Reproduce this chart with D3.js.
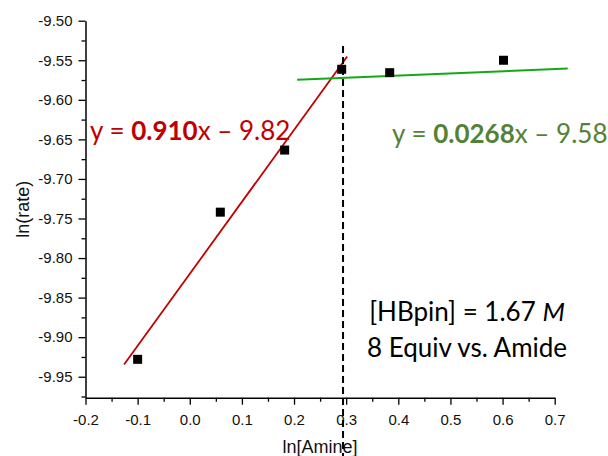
<!DOCTYPE html>
<html>
<head>
<meta charset="utf-8">
<script src="https://cdn.jsdelivr.net/npm/d3@7"></script>
<style>
  html, body { margin: 0; padding: 0; background: #fff; }
  svg { display: block; }
</style>
</head>
<body>
<script>
// ln[Amine] vs ln(rate) measurements
const lnAmine = [-0.100, 0.0586, 0.182, 0.2914, 0.3835, 0.6018];
const lnRate  = [-9.928, -9.742, -9.6635, -9.5614, -9.5657, -9.550];

// Linear fits (slope, intercept) and the x span each fit line covers
const fitLow  = { slope: 0.910,  intercept: -9.82, xFrom: -0.126, xTo: 0.302 };
const fitHigh = { slope: 0.0268, intercept: -9.58, xFrom: 0.206,  xTo: 0.725 };

// Break point marker (vertical dashed line)
const breakX = 0.294;
const breakYSpan = [-9.532, -10.06];

// Axis ticks
const xTicks = [-0.2, -0.1, 0.0, 0.1, 0.2, 0.3, 0.4, 0.5, 0.6, 0.7];
const xMinorTicks = [-0.15, -0.05, 0.05, 0.15, 0.25, 0.35, 0.45, 0.55, 0.65];
const yTicks = [-9.50, -9.55, -9.60, -9.65, -9.70, -9.75, -9.80, -9.85, -9.90, -9.95];
const yMinorTicks = [-9.525, -9.575, -9.625, -9.675, -9.725, -9.775, -9.825, -9.875, -9.925, -9.975];

const W = 608, H = 456;
const svg = d3.select("body").append("svg").attr("width", W).attr("height", H);

const x = d3.scaleLinear().domain([-0.2, 0.7]).range([85.5, 554.7]);
const y = d3.scaleLinear().domain([-9.9765, -9.50]).range([397.7, 20.7]);

const axisFont = "'Liberation Sans', Arial, sans-serif";
const calloutFont = "Lato, 'Open Sans', sans-serif";

// Minor ticks
svg.append("g").attr("transform", `translate(0,${y.range()[0]})`)
  .call(d3.axisBottom(x).tickValues(xMinorTicks).tickSize(4).tickSizeOuter(0).tickFormat(""))
  .call(g => g.select(".domain").remove())
  .call(g => g.selectAll("line").attr("stroke", "#000").attr("stroke-width", 1.3));
svg.append("g").attr("transform", `translate(${x.range()[0]},0)`)
  .call(d3.axisLeft(y).tickValues(yMinorTicks).tickSize(4).tickSizeOuter(0).tickFormat(""))
  .call(g => g.select(".domain").remove())
  .call(g => g.selectAll("line").attr("stroke", "#000").attr("stroke-width", 1.3));

// Major axes
const xAxis = svg.append("g").attr("transform", `translate(0,${y.range()[0]})`)
  .call(d3.axisBottom(x).tickValues(xTicks).tickSize(7).tickSizeOuter(0).tickPadding(10)
    .tickFormat(d => d.toFixed(1)));
const yAxis = svg.append("g").attr("transform", `translate(${x.range()[0]},0)`)
  .call(d3.axisLeft(y).tickValues(yTicks).tickSize(7).tickSizeOuter(0).tickPadding(6)
    .tickFormat(d => d.toFixed(2)));
[xAxis, yAxis].forEach(g => {
  g.select(".domain").attr("stroke", "#000").attr("stroke-width", 1.5);
  g.selectAll(".tick line").attr("stroke", "#000").attr("stroke-width", 1.3);
  g.selectAll("text").attr("fill", "#111").style("font-family", axisFont).style("font-size", "15px");
});

// Axis titles
svg.append("text")
  .attr("x", (x.range()[0] + x.range()[1]) / 2).attr("y", 453)
  .attr("text-anchor", "middle")
  .style("font-family", axisFont).style("font-size", "18px").attr("fill", "#111")
  .text("ln[Amine]");
svg.append("text")
  .attr("transform", `translate(29,${(y.range()[0] + y.range()[1]) / 2}) rotate(-90)`)
  .attr("text-anchor", "middle")
  .style("font-family", axisFont).style("font-size", "18px").attr("fill", "#111")
  .text("ln(rate)");

// Fit lines
const line = d3.line().x(d => x(d[0])).y(d => y(d[1]));
function fitPoints(f) {
  return [f.xFrom, f.xTo].map(v => [v, f.slope * v + f.intercept]);
}
svg.append("path").datum(fitPoints(fitLow))
  .attr("d", line).attr("fill", "none").attr("stroke", "#c00000").attr("stroke-width", 1.8);
svg.append("path").datum(fitPoints(fitHigh))
  .attr("d", line).attr("fill", "none").attr("stroke", "#14a814").attr("stroke-width", 2);

// Break point dashed line
svg.append("path").datum(breakYSpan.map(v => [breakX, v]))
  .attr("d", line).attr("stroke", "#000").attr("stroke-width", 2)
  .attr("stroke-dasharray", "7,4");

// Data markers
const pts = lnAmine.map((v, i) => [v, lnRate[i]]);
svg.append("g").selectAll("rect").data(pts).join("rect")
  .attr("x", d => x(d[0]) - 4.5).attr("y", d => y(d[1]) - 4.5)
  .attr("width", 9).attr("height", 9).attr("fill", "#000");

// Fit equations
function equation(px, py, color, slope, rest) {
  const t = svg.append("text").attr("x", px).attr("y", py)
    .style("font-family", calloutFont).style("font-size", "26px").attr("fill", color);
  t.append("tspan").text("y = ");
  t.append("tspan").style("font-weight", "bold").text(slope);
  t.append("tspan").text(rest);
  return t;
}
equation(90, 140, "#c00000", "0.910", "x \u2013 9.82");
equation(392, 143, "#548235", "0.0268", "x \u2013 9.58");

// Conditions
const cond = svg.append("text").attr("x", 467).attr("y", 320.5).attr("text-anchor", "middle")
  .style("font-family", calloutFont).style("font-size", "26px").attr("fill", "#000");
cond.append("tspan").text("[HBpin] = 1.67 ");
cond.append("tspan").style("font-style", "italic").text("M");
svg.append("text").attr("x", 467).attr("y", 356.5).attr("text-anchor", "middle")
  .style("font-family", calloutFont).style("font-size", "26px").attr("fill", "#000")
  .text("8 Equiv vs. Amide");
</script>
</body>
</html>
